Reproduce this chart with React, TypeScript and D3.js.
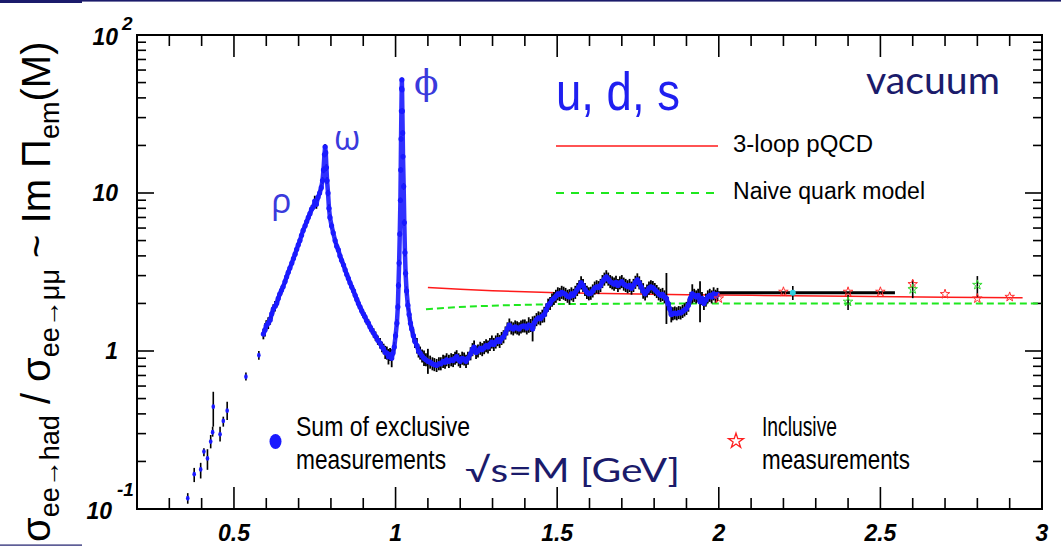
// R ratio (e+e- -> hadrons / mu mu), u,d,s region
import { useEffect, useRef } from 'react';
import * as d3 from 'd3';

const WIDTH = 1061;
const HEIGHT = 547;

// axis labels
const xTickValues = [0.5, 1, 1.5, 2, 2.5, 3];
const xTickLabels = ['0.5', '1', '1.5', '2', '2.5', '3'];
const yTickValues = [100, 10, 1, 0.1];
const yTickBases = ['10', '10', '1', '10'];
const yTickExps = ['2', '', '', '-1'];

// isolated low-mass points: [M, R, low, high]
const lowMass: [number, number, number, number][] = [
	[0.357, 0.117, 0.108, 0.126],
	[0.377, 0.166, 0.148, 0.182],
	[0.397, 0.178, 0.156, 0.196],
	[0.407, 0.231, 0.216, 0.242],
	[0.418, 0.209, 0.177, 0.239],
	[0.428, 0.267, 0.242, 0.294],
	[0.434, 0.306, 0.287, 0.332],
	[0.436, 0.444, 0.332, 0.552],
	[0.457, 0.297, 0.267, 0.332],
	[0.467, 0.361, 0.332, 0.384],
	[0.479, 0.419, 0.366, 0.478],
	[0.537, 0.687, 0.65, 0.73],
	[0.577, 0.94, 0.88, 1.0]
];

// exclusive sum: [M, R, relative error (log-symmetric)]
const rhoOmega: [number, number, number][] = [
	[0.591, 1.28, 0.08], [0.596, 1.36, 0.1], [0.6, 1.45, 0.08], [0.606, 1.5, 0.09], [0.612, 1.57, 0.07],
	[0.617, 1.72, 0.08], [0.622, 1.85, 0.07], [0.627, 1.92, 0.08], [0.632, 2.0, 0.06], [0.637, 2.15, 0.07],
	[0.642, 2.3, 0.06], [0.647, 2.42, 0.06], [0.652, 2.55, 0.05], [0.658, 2.75, 0.05], [0.663, 2.95, 0.05],
	[0.668, 3.15, 0.05], [0.673, 3.35, 0.05], [0.679, 3.6, 0.04], [0.684, 3.85, 0.04], [0.689, 4.1, 0.04],
	[0.694, 4.4, 0.04], [0.699, 4.7, 0.04], [0.704, 5.0, 0.04], [0.709, 5.4, 0.04], [0.714, 5.8, 0.04],
	[0.72, 6.2, 0.04], [0.725, 6.6, 0.04], [0.73, 7.0, 0.05], [0.735, 7.4, 0.05], [0.74, 7.9, 0.06],
	[0.746, 8.2, 0.05], [0.75, 8.9, 0.08], [0.755, 8.5, 0.07], [0.76, 9.4, 0.06], [0.765, 10.0, 0.05],
	[0.77, 10.8, 0.05], [0.774, 12.0, 0.05], [0.777, 14.0, 0.05], [0.78, 17.5, 0.04], [0.782, 19.6, 0.04],
	[0.784, 18.0, 0.04], [0.786, 14.5, 0.05], [0.788, 12.0, 0.05], [0.791, 10.0, 0.05], [0.794, 8.0, 0.06],
	[0.797, 7.0, 0.05], [0.802, 6.2, 0.05], [0.807, 5.6, 0.05], [0.813, 5.0, 0.05], [0.818, 4.6, 0.05],
	[0.823, 4.36, 0.05], [0.828, 4.0, 0.05], [0.833, 3.75, 0.05], [0.839, 3.5, 0.05], [0.844, 3.26, 0.05],
	[0.849, 3.05, 0.05], [0.854, 2.88, 0.05], [0.859, 2.7, 0.05], [0.864, 2.55, 0.05], [0.87, 2.4, 0.05],
	[0.875, 2.25, 0.05], [0.88, 2.12, 0.05], [0.885, 2.0, 0.05], [0.89, 1.9, 0.06], [0.895, 1.8, 0.05],
	[0.9, 1.72, 0.06], [0.905, 1.65, 0.06], [0.91, 1.56, 0.06], [0.916, 1.5, 0.06], [0.921, 1.42, 0.06],
	[0.926, 1.36, 0.06], [0.932, 1.3, 0.07], [0.938, 1.24, 0.07], [0.945, 1.17, 0.07], [0.952, 1.12, 0.08],
	[0.958, 1.06, 0.08], [0.963, 1.03, 0.08], [0.968, 0.98, 0.1], [0.973, 0.97, 0.1], [0.978, 0.92, 0.12],
	[0.983, 0.95, 0.1], [0.988, 0.9, 0.14], [0.992, 0.97, 0.1], [0.996, 1.06, 0.08]
];

const phiPeak: [number, number, number][] = [
	[1.0, 1.25, 0.06], [1.004, 1.5, 0.06], [1.007, 1.9, 0.05], [1.009, 2.6, 0.05], [1.011, 3.6, 0.05],
	[1.013, 5.5, 0.04], [1.015, 9.0, 0.04], [1.016, 14.0, 0.04], [1.017, 22.0, 0.04], [1.018, 33.0, 0.03],
	[1.019, 46.0, 0.03], [1.0195, 52.0, 0.03], [1.02, 45.0, 0.03], [1.021, 33.0, 0.04], [1.022, 24.0, 0.04],
	[1.023, 17.0, 0.04], [1.025, 11.0, 0.05], [1.027, 6.5, 0.05], [1.029, 4.2, 0.06], [1.031, 3.1, 0.06],
	[1.034, 2.4, 0.07], [1.038, 1.95, 0.08], [1.042, 1.7, 0.1], [1.046, 1.5, 0.1], [1.05, 1.38, 0.1],
	[1.055, 1.25, 0.1], [1.06, 1.15, 0.1], [1.066, 1.08, 0.12], [1.071, 1.0, 0.1], [1.076, 0.97, 0.1],
	[1.082, 0.93, 0.1], [1.088, 0.9, 0.12], [1.094, 0.88, 0.1]
];

const continuum: [number, number, number][] = [
	[1.1, 0.86, 0.2], [1.107, 0.85, 0.1], [1.114, 0.83, 0.1], [1.12, 0.82, 0.1], [1.127, 0.81, 0.1],
	[1.134, 0.83, 0.1], [1.14, 0.83, 0.1], [1.147, 0.86, 0.1], [1.153, 0.85, 0.1], [1.158, 0.88, 0.1],
	[1.165, 0.86, 0.1], [1.172, 0.88, 0.1], [1.178, 0.87, 0.1], [1.184, 0.9, 0.1], [1.189, 0.92, 0.1],
	[1.195, 0.88, 0.1], [1.2, 0.86, 0.1], [1.206, 0.9, 0.1], [1.212, 0.89, 0.1], [1.218, 0.86, 0.1],
	[1.224, 0.9, 0.1], [1.232, 0.96, 0.1], [1.238, 1.02, 0.1], [1.243, 1.06, 0.1], [1.249, 0.98, 0.1],
	[1.255, 1.0, 0.1], [1.262, 1.04, 0.1], [1.268, 1.02, 0.1], [1.274, 1.05, 0.1], [1.28, 1.08, 0.1],
	[1.286, 1.06, 0.1], [1.292, 1.1, 0.1], [1.298, 1.14, 0.1], [1.304, 1.1, 0.1], [1.31, 1.14, 0.1],
	[1.316, 1.18, 0.1], [1.322, 1.15, 0.1], [1.328, 1.2, 0.1], [1.334, 1.23, 0.1], [1.34, 1.3, 0.1],
	[1.346, 1.38, 0.1], [1.352, 1.46, 0.1], [1.358, 1.4, 0.1], [1.364, 1.38, 0.1], [1.37, 1.42, 0.1],
	[1.376, 1.4, 0.1], [1.382, 1.38, 0.1], [1.388, 1.42, 0.1], [1.394, 1.44, 0.1], [1.4, 1.44, 0.1],
	[1.406, 1.4, 0.1], [1.412, 1.46, 0.12], [1.418, 1.45, 0.1], [1.424, 1.38, 0.2], [1.43, 1.52, 0.1],
	[1.436, 1.58, 0.1], [1.442, 1.62, 0.1], [1.448, 1.6, 0.1], [1.454, 1.66, 0.1], [1.46, 1.7, 0.12],
	[1.466, 1.82, 0.1], [1.472, 1.95, 0.1], [1.478, 2.0, 0.1], [1.484, 2.1, 0.1], [1.49, 2.15, 0.1],
	[1.496, 2.22, 0.1], [1.502, 2.3, 0.1], [1.508, 2.28, 0.1], [1.514, 2.35, 0.1], [1.52, 2.32, 0.1],
	[1.526, 2.28, 0.1], [1.532, 2.22, 0.1], [1.538, 2.2, 0.12], [1.544, 2.3, 0.1], [1.55, 2.25, 0.1],
	[1.556, 2.35, 0.1], [1.562, 2.45, 0.1], [1.568, 2.55, 0.1], [1.574, 2.7, 0.1], [1.58, 2.6, 0.1],
	[1.586, 2.45, 0.1], [1.592, 2.35, 0.1], [1.598, 2.3, 0.1], [1.604, 2.32, 0.1], [1.61, 2.4, 0.1],
	[1.616, 2.5, 0.1], [1.622, 2.55, 0.1], [1.628, 2.52, 0.1], [1.634, 2.6, 0.1], [1.64, 2.75, 0.1],
	[1.646, 2.85, 0.1], [1.652, 2.95, 0.1], [1.658, 2.85, 0.1], [1.664, 2.75, 0.1], [1.67, 2.7, 0.1],
	[1.676, 2.65, 0.1], [1.682, 2.72, 0.1], [1.688, 2.6, 0.1], [1.694, 2.7, 0.1], [1.7, 2.75, 0.1],
	[1.706, 2.65, 0.1], [1.712, 2.6, 0.1], [1.718, 2.55, 0.1], [1.724, 2.6, 0.1], [1.73, 2.5, 0.1],
	[1.736, 2.6, 0.1], [1.742, 2.72, 0.1], [1.748, 2.82, 0.1], [1.754, 2.7, 0.1], [1.76, 2.55, 0.1],
	[1.766, 2.4, 0.12], [1.772, 2.3, 0.1], [1.778, 2.4, 0.1], [1.784, 2.5, 0.1], [1.79, 2.55, 0.1],
	[1.796, 2.52, 0.1], [1.802, 2.45, 0.1], [1.808, 2.38, 0.1], [1.814, 2.3, 0.1], [1.82, 2.25, 0.1],
	[1.826, 2.28, 0.1], [1.832, 2.2, 0.1], [1.838, 2.15, 0.45], [1.843, 2.0, 0.1], [1.848, 1.85, 0.1],
	[1.853, 1.7, 0.12], [1.858, 1.72, 0.1], [1.864, 1.74, 0.1], [1.87, 1.72, 0.1], [1.876, 1.75, 0.1],
	[1.882, 1.74, 0.1], [1.888, 1.78, 0.1], [1.894, 1.82, 0.1], [1.9, 1.86, 0.1], [1.906, 1.95, 0.1],
	[1.912, 2.15, 0.1], [1.918, 2.3, 0.15], [1.924, 2.25, 0.1], [1.93, 2.2, 0.1], [1.936, 2.25, 0.1],
	[1.942, 2.05, 0.35], [1.948, 2.15, 0.1], [1.954, 2.0, 0.1], [1.96, 2.1, 0.1], [1.966, 2.2, 0.1],
	[1.972, 2.25, 0.1], [1.978, 2.2, 0.1], [1.984, 2.3, 0.1], [1.99, 2.22, 0.1], [1.996, 2.28, 0.1]
];

// wide-bin point above 2 GeV: [Mlow, Mhigh, R]
const wideBin: [number, number, number] = [1.99, 2.545, 2.34];

// inclusive measurements
const inclusiveRed: [number, number][] = [
	[2.0, 2.15], [2.2, 2.37], [2.4, 2.37], [2.5, 2.37], [2.6, 2.65], [2.7, 2.29], [2.8, 2.15], [2.9, 2.2]
];
const inclusiveRedErr: [number, number, number][] = [[2.6, 2.16, 2.81]];
const inclusiveGreen: [number, number, number, number][] = [
	[2.4, 2.05, 1.82, 2.26], [2.6, 2.46, 2.46, 2.46], [2.8, 2.62, 2.2, 2.98]
];
const inclusiveCyan: [number, number, number, number][] = [[2.229, 2.34, 2.1, 2.58]];

// theory curves
const pqcd: [number, number][] = [
	[1.1, 2.52], [1.2, 2.46], [1.3, 2.41], [1.4, 2.37], [1.5, 2.34], [1.7, 2.3], [1.9, 2.27],
	[2.1, 2.25], [2.4, 2.22], [2.7, 2.19], [2.94, 2.17]
];
const naive: [number, number][] = [
	[1.094, 1.84], [1.22, 1.91], [1.35, 1.95], [1.5, 1.98], [1.65, 1.99], [1.8, 2.0], [3.0, 2.0]
];

function RatioChart() {
	const ref = useRef<SVGSVGElement>(null);

	useEffect(() => {
		const svg = d3.select(ref.current);
		svg.selectAll('*').remove();

		const left = 137;
		const right = 1042;
		const top = 35;
		const bottom = 509;

		const x = d3.scaleLinear().domain([0.2, 3]).range([left, right]);
		const y = d3.scaleLog().domain([0.1, 100]).range([bottom, top]);

		const navy = '#1b1b6b';
		const blue = '#1a1aff';
		const greek = '#3a3adc';

		// slide decoration
		svg.append('rect').attr('x', 0).attr('y', 0).attr('width', WIDTH).attr('height', 1.6).attr('fill', navy);
		svg.append('rect').attr('x', 0).attr('y', 0).attr('width', 82).attr('height', 3).attr('fill', navy);
		svg.append('rect').attr('x', 0).attr('y', 544.5).attr('width', 82).attr('height', 1.2).attr('fill', navy);

		// ticks
		const ax = svg.append('g').attr('stroke', '#000').attr('stroke-width', 1.6);
		x.ticks(28).forEach((v) => {
			if (v <= 0.2 + 1e-6 || v >= 3 - 1e-6) return;
			const major = Math.abs(v * 2 - Math.round(v * 2)) < 1e-6;
			const len = major ? 22 : 11;
			ax.append('line').attr('x1', x(v)).attr('x2', x(v)).attr('y1', bottom).attr('y2', bottom - len);
			ax.append('line').attr('x1', x(v)).attr('x2', x(v)).attr('y1', top).attr('y2', top + len);
		});
		y.ticks().forEach((v) => {
			if (v <= 0.1 + 1e-9 || v >= 100 - 1e-9) return;
			const lg = Math.log10(v);
			const major = Math.abs(lg - Math.round(lg)) < 1e-6;
			const len = major ? 17 : 9;
			ax.append('line').attr('x1', left).attr('x2', left + len).attr('y1', y(v)).attr('y2', y(v));
			ax.append('line').attr('x1', right).attr('x2', right - len).attr('y1', y(v)).attr('y2', y(v));
		});

		// frame
		svg.append('rect')
			.attr('x', left)
			.attr('y', top)
			.attr('width', right - left)
			.attr('height', bottom - top)
			.attr('fill', 'none')
			.attr('stroke', '#000')
			.attr('stroke-width', 2);

		// tick labels
		const tickFont = "'Liberation Sans', Arial, sans-serif";
		svg.append('g')
			.selectAll('text')
			.data(xTickValues)
			.join('text')
			.attr('x', (d) => x(d))
			.attr('y', 541)
			.attr('text-anchor', 'middle')
			.attr('font-family', tickFont)
			.attr('font-weight', 'bold')
			.attr('font-style', 'italic')
			.attr('font-size', 23)
			.text((_, i) => xTickLabels[i]);

		yTickValues.forEach((v, i) => {
			const yy = v === 100 ? 45 : v === 0.1 ? 519 : y(v) + 8;
			const xr = v === 0.1 ? 112 : 118;
			svg.append('text')
				.attr('x', xr)
				.attr('y', yy)
				.attr('text-anchor', 'end')
				.attr('font-family', tickFont)
				.attr('font-weight', 'bold')
				.attr('font-style', 'italic')
				.attr('font-size', 23)
				.text(yTickBases[i]);
			if (yTickExps[i]) {
				svg.append('text')
					.attr('x', v === 0.1 ? 117 : 122)
					.attr('y', v === 0.1 ? 496 : 30)
					.attr('font-family', tickFont)
					.attr('font-weight', 'bold')
					.attr('font-style', 'italic')
					.attr('font-size', 19)
					.text(yTickExps[i]);
			}
		});

		// theory curves
		const line = d3
			.line<[number, number]>()
			.x((d) => x(d[0]))
			.y((d) => y(d[1]));

		svg.append('path')
			.attr('d', line(naive))
			.attr('fill', 'none')
			.attr('stroke', '#1ee81e')
			.attr('stroke-width', 2)
			.attr('stroke-dasharray', '7,4');

		svg.append('path')
			.attr('d', line(pqcd))
			.attr('fill', 'none')
			.attr('stroke', '#ff1a1a')
			.attr('stroke-width', 1.5);

		// wide-bin black bar
		svg.append('line')
			.attr('x1', x(wideBin[0]))
			.attr('x2', x(wideBin[1]))
			.attr('y1', y(wideBin[2]))
			.attr('y2', y(wideBin[2]))
			.attr('stroke', '#000')
			.attr('stroke-width', 3);

		// exclusive data
		const excl = [...rhoOmega, ...phiPeak, ...continuum];
		const dataG = svg.append('g');
		dataG.selectAll('line.err')
			.data(excl)
			.join('line')
			.attr('x1', (d) => x(d[0]))
			.attr('x2', (d) => x(d[0]))
			.attr('y1', (d) => y(d[1] * (1 + d[2])))
			.attr('y2', (d) => y(d[1] / (1 + d[2])))
			.attr('stroke', '#000')
			.attr('stroke-width', 1.8);

		dataG.selectAll('line.low')
			.data(lowMass)
			.join('line')
			.attr('x1', (d) => x(d[0]))
			.attr('x2', (d) => x(d[0]))
			.attr('y1', (d) => y(d[3]))
			.attr('y2', (d) => y(d[2]))
			.attr('stroke', '#000')
			.attr('stroke-width', 1.6);

		dataG.append('path')
			.attr('d', line(excl.map((d) => [d[0], d[1]] as [number, number])))
			.attr('fill', 'none')
			.attr('stroke', blue)
			.attr('stroke-width', 4.5)
			.attr('stroke-linejoin', 'round')
			.attr('opacity', 0.9);

		dataG.selectAll('circle.excl')
			.data(excl)
			.join('circle')
			.attr('cx', (d) => x(d[0]))
			.attr('cy', (d) => y(d[1]))
			.attr('r', 2.6)
			.attr('fill', blue);

		dataG.selectAll('ellipse.low')
			.data(lowMass)
			.join('ellipse')
			.attr('cx', (d) => x(d[0]))
			.attr('cy', (d) => y(d[1]))
			.attr('rx', 1.8)
			.attr('ry', 2.4)
			.attr('fill', blue);

		// inclusive data
		const star = d3.symbol().type(d3.symbolStar).size(28);
		const errs: [number, number, number][] = [
			...inclusiveRedErr,
			...inclusiveGreen.map((d) => [d[0], d[2], d[3]] as [number, number, number]),
			...inclusiveCyan.map((d) => [d[0], d[2], d[3]] as [number, number, number])
		];
		svg.append('g')
			.selectAll('line')
			.data(errs)
			.join('line')
			.attr('x1', (d) => x(d[0]))
			.attr('x2', (d) => x(d[0]))
			.attr('y1', (d) => y(d[1]))
			.attr('y2', (d) => y(d[2]))
			.attr('stroke', '#000')
			.attr('stroke-width', 1.6);

		svg.append('g')
			.selectAll('path')
			.data(inclusiveRed)
			.join('path')
			.attr('d', star)
			.attr('transform', (d) => `translate(${x(d[0])},${y(d[1])})`)
			.attr('fill', 'none')
			.attr('stroke', '#ff3030')
			.attr('stroke-width', 1);

		svg.append('g')
			.selectAll('path')
			.data(inclusiveGreen)
			.join('path')
			.attr('d', star)
			.attr('transform', (d) => `translate(${x(d[0])},${y(d[1])})`)
			.attr('fill', 'none')
			.attr('stroke', '#33dd33')
			.attr('stroke-width', 1);

		svg.append('g')
			.selectAll('circle')
			.data(inclusiveCyan)
			.join('circle')
			.attr('cx', (d) => x(d[0]))
			.attr('cy', (d) => y(d[1]))
			.attr('r', 3)
			.attr('fill', '#30d0e0');

		// legend (top)
		const legFont = "'Liberation Sans', Arial, sans-serif";
		svg.append('line').attr('x1', 556).attr('x2', 718).attr('y1', 146).attr('y2', 146)
			.attr('stroke', '#ff1a1a').attr('stroke-width', 1.6);
		svg.append('line').attr('x1', 556).attr('x2', 718).attr('y1', 193).attr('y2', 193)
			.attr('stroke', '#1ee81e').attr('stroke-width', 2).attr('stroke-dasharray', '8,7');
		svg.append('text').attr('x', 733).attr('y', 152).attr('font-family', legFont).attr('font-size', 23)
			.attr('textLength', 140).attr('lengthAdjust', 'spacingAndGlyphs').text('3-loop pQCD');
		svg.append('text').attr('x', 733).attr('y', 199).attr('font-family', legFont).attr('font-size', 23)
			.attr('textLength', 192).attr('lengthAdjust', 'spacingAndGlyphs').text('Naive quark model');

		// legend (bottom)
		svg.append('ellipse').attr('cx', 275.5).attr('cy', 441.5).attr('rx', 6).attr('ry', 7.5).attr('fill', blue);
		svg.append('text').attr('x', 296).attr('y', 436).attr('font-family', legFont).attr('font-size', 27)
			.attr('textLength', 174).attr('lengthAdjust', 'spacingAndGlyphs').text('Sum of exclusive');
		svg.append('text').attr('x', 296).attr('y', 469).attr('font-family', legFont).attr('font-size', 27)
			.attr('textLength', 150).attr('lengthAdjust', 'spacingAndGlyphs').text('measurements');

		svg.append('path')
			.attr('d', d3.symbol().type(d3.symbolStar).size(70)())
			.attr('transform', 'translate(736,441)')
			.attr('fill', 'none')
			.attr('stroke', '#ff2020')
			.attr('stroke-width', 1.3);
		svg.append('text').attr('x', 762).attr('y', 436).attr('font-family', legFont).attr('font-size', 27)
			.attr('textLength', 75).attr('lengthAdjust', 'spacingAndGlyphs').text('Inclusive');
		svg.append('text').attr('x', 762).attr('y', 469).attr('font-family', legFont).attr('font-size', 27)
			.attr('textLength', 148).attr('lengthAdjust', 'spacingAndGlyphs').text('measurements');

		// annotations
		const annFont = "Lato, 'Open Sans', sans-serif";
		svg.append('text').attr('x', 866).attr('y', 94).attr('font-family', annFont).attr('font-size', 38)
			.attr('fill', navy).attr('textLength', 134).attr('lengthAdjust', 'spacingAndGlyphs').text('vacuum');
		svg.append('text').attr('x', 465).attr('y', 482).attr('font-family', annFont).attr('font-size', 33)
			.attr('fill', navy).attr('textLength', 215).attr('lengthAdjust', 'spacingAndGlyphs').text('√s=M [GeV]');
		svg.append('text').attr('x', 556).attr('y', 110).attr('font-family', legFont).attr('font-size', 54)
			.attr('fill', '#1f1ff0').attr('textLength', 124).attr('lengthAdjust', 'spacingAndGlyphs').text('u, d, s');
		svg.append('text').attr('x', 414).attr('y', 95).attr('font-family', "'DejaVu Serif', serif").attr('font-size', 36)
			.attr('fill', greek).text('ϕ');
		svg.append('text').attr('x', 334).attr('y', 150).attr('font-family', "'Open Sans', sans-serif").attr('font-size', 34)
			.attr('fill', greek).text('ω');
		svg.append('text').attr('x', 271).attr('y', 213).attr('font-family', "'Open Sans', sans-serif").attr('font-size', 34)
			.attr('fill', greek).text('ρ');

		// y axis title
		const yt = svg.append('text')
			.attr('transform', 'translate(50,542) rotate(-90)')
			.attr('font-family', legFont)
			.attr('font-size', 40);
		yt.append('tspan').text('σ');
		yt.append('tspan').attr('font-size', 27).attr('dy', 9).text('ee→had');
		yt.append('tspan').attr('dy', -9).text(' / σ');
		yt.append('tspan').attr('font-size', 27).attr('dy', 9).text('ee→μμ');
		yt.append('tspan').attr('dy', -9).text(' ~ Im Π');
		yt.append('tspan').attr('font-size', 27).attr('dy', 9).text('em');
		yt.append('tspan').attr('dy', -9).text('(M)');
	}, []);

	return (
		<svg
			ref={ref}
			width={WIDTH}
			height={HEIGHT}
			style={{ position: 'absolute', left: 0, top: 0, background: '#fff' }}
		/>
	);
}

export default function App() {
	return <RatioChart />;
}
